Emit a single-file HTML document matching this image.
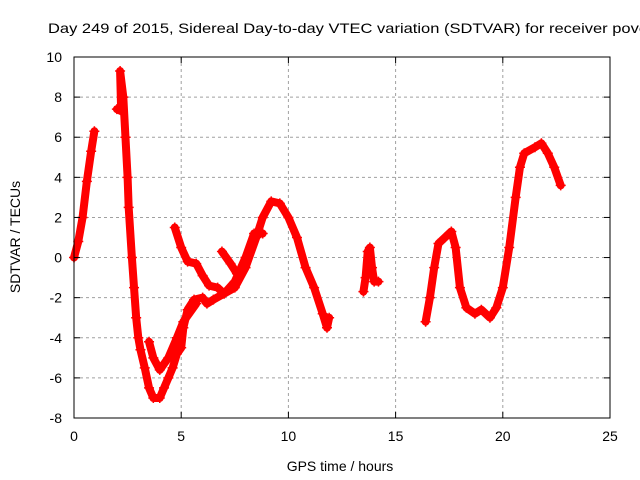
<!DOCTYPE html>
<html><head><meta charset="utf-8"><style>
body{margin:0;background:#fff}
svg{display:block;font-family:"Liberation Sans",sans-serif}
</style></head><body>
<svg id="chart" width="640" height="480">
<text x="48" y="33" font-size="14" textLength="600" lengthAdjust="spacingAndGlyphs">Day 249 of 2015, Sidereal Day-to-day VTEC variation (SDTVAR) for receiver pove</text>
<text x="340" y="471" font-size="14" text-anchor="middle">GPS time / hours</text>
<text transform="translate(20,237) rotate(-90)" font-size="14" text-anchor="middle">SDTVAR / TECUs</text>
<g id="grid"></g><g id="series"></g>
<rect x="74" y="57" width="536" height="361" fill="none" stroke="#000"/>
<g id="ticks"></g>
</svg>
<script>
const xTicks=[0,5,10,15,20,25];
const yTicks=[-8,-6,-4,-2,0,2,4,6,8,10];
const seg1=[[0,0],[0.2,0.8],[0.4,2],[0.6,3.8],[0.8,5.3],[0.95,6.3]];
const seg2=[[2.0,7.4],[2.2,7.3],[2.15,9.3],[2.3,8],[2.4,6],[2.5,4],[2.55,2.5],[2.7,0],[2.8,-1.5],[2.9,-3],[3.0,-4],[3.1,-4.6],[3.3,-5.5],[3.5,-6.5],[3.7,-7],[4.0,-7],[4.2,-6.5],[4.4,-6],[4.6,-5.5],[4.8,-4.8],[5.0,-4.5],[5.1,-3.5],[5.3,-2.6],[5.6,-2.1],[6.0,-2],[6.2,-2.3],[6.5,-2.1],[7.0,-1.8],[7.5,-1.5],[8.0,-0.5],[8.5,1.0],[8.8,2.0],[9.2,2.8],[9.6,2.7],[10.0,2.0],[10.4,1],[10.8,-0.5],[11.2,-1.5],[11.6,-2.8],[11.8,-3.5],[11.9,-3]];
const seg3=[[3.5,-4.2],[3.7,-5.0],[4.0,-5.6],[4.4,-5.0],[4.8,-4.0],[5.1,-3.2],[5.7,-2.3]];
const seg4=[[4.7,1.5],[5.0,0.5],[5.3,-0.2],[5.7,-0.3],[6.0,-0.9],[6.3,-1.4],[6.7,-1.5],[7.0,-1.8],[7.5,-1.2],[8.0,0],[8.4,1.2],[8.8,1.2]];
const seg5=[[6.9,0.3],[7.3,-0.3],[7.6,-0.8],[7.9,-0.6]];
const seg6=[[13.5,-1.7],[13.6,-1],[13.7,0.3],[13.8,0.5],[13.9,-0.5],[14.0,-1.2],[14.2,-1.2]];
const seg7=[[16.4,-3.2],[16.6,-2],[16.8,-0.5],[17.0,0.7],[17.3,1.0],[17.6,1.3],[17.8,0.5],[18.0,-1.5],[18.3,-2.5],[18.7,-2.8],[19.0,-2.6],[19.4,-3],[19.7,-2.5],[20.0,-1.5],[20.3,0.5],[20.6,3],[20.8,4.5],[21.0,5.2],[21.5,5.5],[21.8,5.7],[22.1,5.2],[22.4,4.5],[22.7,3.6]];
const segments=[seg1,seg2,seg3,seg4,seg5,seg6,seg7];
const X=v=>74+v*536/25, Y=v=>418-(v+8)*361/18;
const NS="http://www.w3.org/2000/svg";
function mk(t,a,p){const e=document.createElementNS(NS,t);for(const k in a)e.setAttribute(k,a[k]);p.appendChild(e);return e;}
const g=document.getElementById('grid'),tk=document.getElementById('ticks'),s=document.getElementById('series');
xTicks.forEach(v=>{
 if(v>0&&v<25){const l=mk('line',{x1:X(v),x2:X(v),y1:57,y2:418,stroke:'#a0a0a0','stroke-dasharray':'3,3'},g);
 }
 const t=mk('text',{x:X(v),y:441,'font-size':14,'text-anchor':'middle'},tk);t.textContent=v;
 
 mk('line',{x1:X(v),x2:X(v),y1:418,y2:412,stroke:'#000'},tk);mk('line',{x1:X(v),x2:X(v),y1:57,y2:63,stroke:'#000'},tk);
});
yTicks.forEach(v=>{
 if(v>-8&&v<10){const l=mk('line',{x1:74,x2:610,y1:Y(v),y2:Y(v),stroke:'#a0a0a0','stroke-dasharray':'3,3'},g);
 }
 const t=mk('text',{x:62,y:Y(v)+5,'font-size':14,'text-anchor':'end'},tk);t.textContent=v;
 
 mk('line',{x1:74,x2:80,y1:Y(v),y2:Y(v),stroke:'#000'},tk);mk('line',{x1:610,x2:604,y1:Y(v),y2:Y(v),stroke:'#000'},tk);
});
segments.forEach(seg=>{
 const pl=mk('polyline',{points:seg.map(p=>X(p[0])+','+Y(p[1])).join(' '),fill:'none',stroke:'#f00','stroke-width':8,'stroke-linejoin':'round','stroke-linecap':'round'},s);
 
 seg.forEach(p=>{const m=mk('path',{d:`M${X(p[0])-5},${Y(p[1])}h10M${X(p[0])},${Y(p[1])-5}v10`,stroke:'#f00','stroke-width':1.5},s);
 });
});
</script>
</body></html>
